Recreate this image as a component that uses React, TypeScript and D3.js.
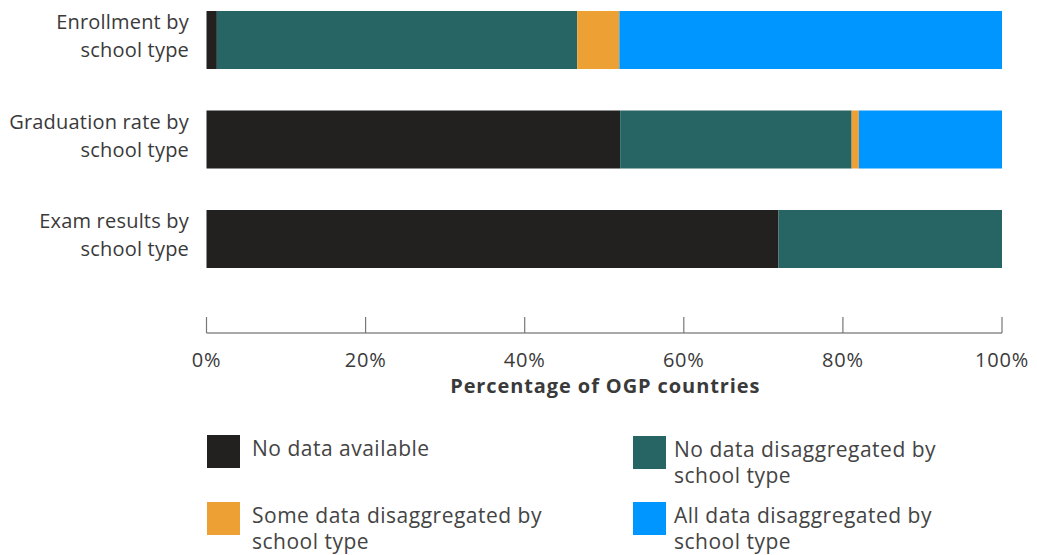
import React from "react";
import * as d3 from "d3";

const categories = ["Enrollment by\nschool type", "Graduation rate by\nschool type", "Exam results by\nschool type"];
const seriesNames = [
  "No data available",
  "No data disaggregated by school type",
  "Some data disaggregated by school type",
  "All data disaggregated by school type",
];
const noData = [1.3, 52.0, 71.9];
const noDisagg = [45.3, 29.1, 28.1];
const someDisagg = [5.3, 0.9, 0];
const allDisagg = [48.1, 18.0, 0];
const colors = ["#222120", "#266563", "#EDA135", "#0096FF"];
const ticks = [0, 20, 40, 60, 80, 100];

const FONT = "'Open Sans', Lato, sans-serif";

export default function App() {
  const W = 1037, H = 555;
  const x = d3.scaleLinear().domain([0, 100]).range([206.5, 1002]);
  const y = d3.scaleBand().domain(categories).range([-9.75, 288.75]).paddingInner(0.417).paddingOuter(0.2085);
  const rows = categories.map((c, i) => ({
    cat: c,
    vals: [noData[i], noDisagg[i], someDisagg[i], allDisagg[i]],
  }));
  const stack = d3.stack<any>().keys(["0", "1", "2", "3"]).value((d, k) => d.vals[+k]);
  const series = stack(rows as any);
  const legend = [
    { i: 0, x: 207, y: 435, lines: [seriesNames[0]] },
    { i: 1, x: 633, y: 436, lines: ["No data disaggregated by", "school type"] },
    { i: 2, x: 207, y: 502, lines: ["Some data disaggregated by", "school type"] },
    { i: 3, x: 633, y: 502, lines: ["All data disaggregated by", "school type"] },
  ];
  return (
    <svg width={W} height={H} style={{ position: "absolute", left: 0, top: 0 }} fontFamily={FONT}>
      {series.map((s, si) =>
        s.map((d, di) => {
          const w = x(d[1]) - x(d[0]);
          if (w <= 0) return null;
          return (
            <rect key={`${si}-${di}`} x={x(d[0])} y={y(categories[di])} width={w} height={y.bandwidth()} fill={colors[si]} />
          );
        })
      )}
      {categories.map((c) => {
        const lines = c.split("\n");
        const cy = (y(c) as number) + y.bandwidth() / 2;
        return (
          <text key={c} x={189} textAnchor="end" fontSize={20} letterSpacing={0.2} fill="#3a3a3a">
            {lines.map((l, li) => (
              <tspan key={li} x={189} y={cy - 11 + li * 28}>{l}</tspan>
            ))}
          </text>
        );
      })}
      <line x1={x(0)} x2={x(100)} y1={333} y2={333} stroke="#555" strokeWidth={1.2} />
      {ticks.map((t) => (
        <g key={t}>
          <line x1={x(t)} x2={x(t)} y1={317} y2={333} stroke="#777" strokeWidth={1.2} />
          <text x={x(t)} y={367} textAnchor="middle" fontSize={20} letterSpacing={0.8} fill="#3a3a3a">{t}%</text>
        </g>
      ))}
      <text x={x(50) + 1} y={393} textAnchor="middle" fontSize={20} fontWeight="bold" letterSpacing={0.9} fill="#3a3a3a">Percentage of OGP countries</text>
      {legend.map((l) => (
        <g key={l.i}>
          <rect x={l.x} y={l.y} width={33} height={33} fill={colors[l.i]} />
          <text fontSize={21} letterSpacing={0.5} fill="#444">
            {l.lines.map((t, ti) => (
              <tspan key={ti} x={l.i % 2 === 0 ? 252 : 674} y={l.y + 21 + ti * 26}>{t}</tspan>
            ))}
          </text>
        </g>
      ))}
    </svg>
  );
}
